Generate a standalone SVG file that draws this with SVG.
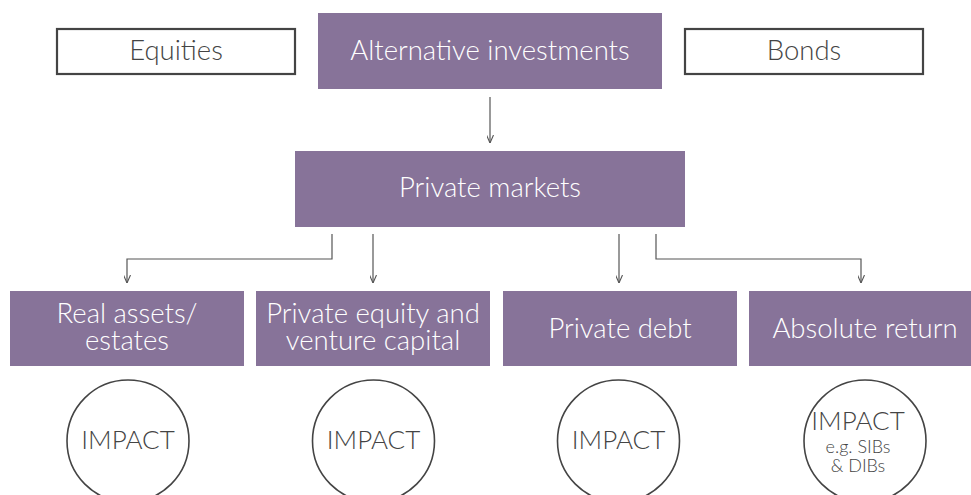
<svg xmlns="http://www.w3.org/2000/svg" width="971" height="495" viewBox="0 0 971 495">
<defs>
<style>
.p{fill:#877399}
.o{fill:#fff;stroke:#444;stroke-width:2.2}
.c{fill:#fff;stroke:#444;stroke-width:1.6}
.t{font-family:Lato,"Liberation Sans",sans-serif;font-weight:300;font-size:27.5px;text-anchor:middle}
.i{font-size:26px}
.w{fill:#fff}
.d{fill:#444}
.s{font-size:18px}
.k{fill:none;stroke:#555;stroke-width:1.2}
</style>
<marker id="ah" viewBox="0 0 8 7" refX="8" refY="3.5" markerWidth="8" markerHeight="7" markerUnits="userSpaceOnUse" orient="auto" preserveAspectRatio="none">
<path d="M0,0 L8,3.5 L0,7" fill="none" stroke="#555" stroke-width="1.1"/>
</marker>
</defs>
<rect width="971" height="495" fill="#fff"/>
<g id="connectors" class="k">
<path d="M490,97 V143" marker-end="url(#ah)"/>
<path d="M332,234 V259 H127 V283" marker-end="url(#ah)"/>
<path d="M373,234 V283" marker-end="url(#ah)"/>
<path d="M619,234 V283" marker-end="url(#ah)"/>
<path d="M656,234 V259 H861 V283" marker-end="url(#ah)"/>
</g>
<g id="equities"><rect class="o" x="57" y="29" width="238" height="45"/><text class="t d" x="176" y="60">Equities</text></g>
<g id="alternative"><rect class="p" x="318" y="13" width="344" height="76"/><text class="t w" x="490" y="60">Alternative investments</text></g>
<g id="bonds"><rect class="o" x="685" y="29" width="238" height="45"/><text class="t d" x="804" y="60">Bonds</text></g>
<g id="private-markets"><rect class="p" x="295" y="151" width="390" height="76"/><text class="t w" x="490" y="197">Private markets</text></g>
<g id="real-assets"><rect class="p" x="10" y="291" width="234" height="75"/><text class="t w" x="127" y="323">Real assets/<tspan x="127" y="350">estates</tspan></text></g>
<g id="private-equity"><rect class="p" x="256" y="291" width="234" height="75"/><text class="t w" x="373" y="323">Private equity and<tspan x="373" y="350">venture capital</tspan></text></g>
<g id="private-debt"><rect class="p" x="503" y="291" width="234" height="75"/><text class="t w" x="620" y="338">Private debt</text></g>
<g id="absolute-return"><rect class="p" x="749" y="291" width="234" height="75"/><text class="t w" x="865" y="338">Absolute return</text></g>
<g id="impact-1"><circle class="c" cx="128" cy="441" r="61"/><text class="t i d" x="128" y="449">IMPACT</text></g>
<g id="impact-2"><circle class="c" cx="373.5" cy="441" r="61"/><text class="t i d" x="373.5" y="449">IMPACT</text></g>
<g id="impact-3"><circle class="c" cx="618.5" cy="441" r="61"/><text class="t i d" x="618.5" y="449">IMPACT</text></g>
<g id="impact-4"><circle class="c" cx="865" cy="441" r="61"/><text class="t i d" x="858" y="430">IMPACT<tspan class="s" x="858" y="453">e.g. SIBs</tspan><tspan class="s" x="858" y="472">&amp; DIBs</tspan></text></g>
</svg>
